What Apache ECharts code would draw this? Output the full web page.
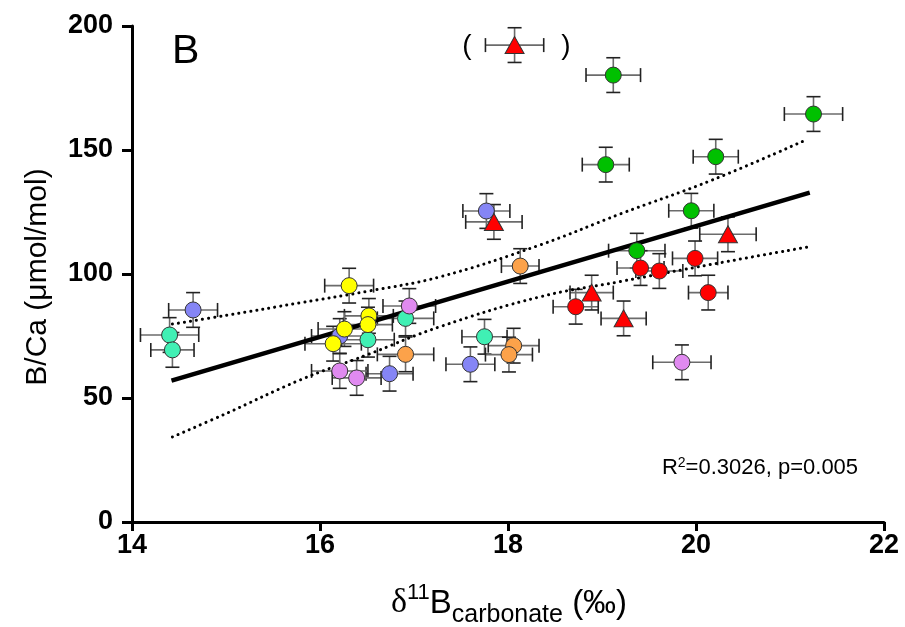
<!DOCTYPE html>
<html>
<head>
<meta charset="utf-8">
<script src="https://cdn.jsdelivr.net/npm/echarts/dist/echarts.min.js"></script>
<style>
html,body{margin:0;padding:0;background:#fff;}
#chart{width:905px;height:627px;}
</style>
</head>
<body>
<div id="chart"></div>
<script>
// ---- data: [d11B, B/Ca, xErr, yErr] ----
var teal   = [[14.40,75.4,0.31,7],[14.43,69.4,0.23,7],[16.91,82.1,0.30,7],[16.51,73.5,0.28,7],[17.75,74.7,0.24,7]];
var blue   = [[14.65,85.5,0.26,7],[16.21,75.0,0.30,7],[16.74,59.8,0.25,7],[17.60,63.6,0.26,7],[17.77,125.4,0.25,7]];
var yellow = [[16.31,95.3,0.26,7],[16.52,83.1,0.26,7],[16.51,79.6,0.26,7],[16.26,77.8,0.28,7],[16.14,71.9,0.30,7]];
var purple = [[16.95,87.1,0.28,7],[16.21,60.9,0.30,7],[16.39,58.1,0.26,7],[19.85,64.4,0.31,7]];
var orange = [[18.13,103.2,0.20,7],[16.91,67.6,0.30,7],[18.06,71.1,0.27,7],[18.01,67.5,0.25,7]];
var green  = [[19.12,180.2,0.29,7],[19.04,144.1,0.25,7],[20.21,147.3,0.24,7],[21.25,164.5,0.31,7],[19.95,125.5,0.24,7],[19.37,109.4,0.30,7]];
var redCircle = [[19.99,106.3,0.24,7],[19.41,102.4,0.25,7],[19.61,101.2,0.25,7],[20.13,92.5,0.21,7],[18.72,86.8,0.24,7]];
var redTriangle = [[18.07,192.3,0.31,7],[17.85,121.0,0.30,7],[20.34,116.0,0.30,7],[18.89,92.5,0.23,7],[19.23,82.1,0.24,7]];

// regression line and 95% confidence band
var fitX = [14.42, 21.21];
var fitY = [57.0, 132.8];
var bandX     = [14.43, 15.00, 15.79, 16.50, 17.28, 18.34, 19.20, 20.18, 21.19];
var bandUpper = [79.8, 83.3, 88.4, 93.0, 98.9, 111.7, 124.3, 138.0, 154.4];
var bandLower = [34.3, 43.7, 57.3, 67.4, 78.8, 90.8, 97.0, 104.0, 110.9];

var xTicks = [14, 16, 18, 20, 22];
var yTicks = [0, 50, 100, 150, 200];

var statText = 'R{s|2}=0.3026, p=0.005';

var groups = [
  {data: teal, color: '#40f0b4', symbol: 'circle'},
  {data: blue, color: '#8585f5', symbol: 'circle'},
  {data: yellow, color: '#ffff00', symbol: 'circle'},
  {data: purple, color: '#e08af0', symbol: 'circle'},
  {data: orange, color: '#fca24a', symbol: 'circle'},
  {data: green, color: '#00c000', symbol: 'circle'},
  {data: redCircle, color: '#ff0000', symbol: 'circle'},
  {data: redTriangle, color: '#ff0000', symbol: 'triangle'}
];

var allPts = [];
groups.forEach(function(g){ g.data.forEach(function(p){ allPts.push(p); }); });

var chart = echarts.init(document.getElementById('chart'), null, {renderer: 'canvas'});
var arial = "'Liberation Sans',Arial,sans-serif";

function zip(a, b){ return a.map(function(v,i){ return [v, b[i]]; }); }

var series = [];
// error bars
series.push({
  type: 'custom',
  z: 2,
  silent: true,
  data: allPts,
  encode: {x: 0, y: 1},
  renderItem: function(params, api){
    var x = api.value(0), y = api.value(1), xe = api.value(2), ye = api.value(3);
    var l = api.coord([x - xe, y]), r = api.coord([x + xe, y]);
    var t = api.coord([x, y + ye]), b = api.coord([x, y - ye]);
    var c = 7;
    var barStyle = {stroke: '#6b6b6b', lineWidth: 1.6};
    var capStyle = {stroke: '#222', lineWidth: 1.6};
    return {
      type: 'group',
      children: [
        {type: 'line', shape: {x1: l[0], y1: l[1], x2: r[0], y2: r[1]}, style: barStyle},
        {type: 'line', shape: {x1: t[0], y1: t[1], x2: b[0], y2: b[1]}, style: barStyle},
        {type: 'line', shape: {x1: l[0], y1: l[1]-c, x2: l[0], y2: l[1]+c}, style: capStyle},
        {type: 'line', shape: {x1: r[0], y1: r[1]-c, x2: r[0], y2: r[1]+c}, style: capStyle},
        {type: 'line', shape: {x1: t[0]-c, y1: t[1], x2: t[0]+c, y2: t[1]}, style: capStyle},
        {type: 'line', shape: {x1: b[0]-c, y1: b[1], x2: b[0]+c, y2: b[1]}, style: capStyle}
      ]
    };
  }
});
// confidence band
series.push({type: 'line', z: 3, data: zip(bandX, bandUpper), smooth: 0.4, showSymbol: false, symbol: 'none',
  lineStyle: {color: '#000', width: 3, type: [0.1, 6], cap: 'round'}});
series.push({type: 'line', z: 3, data: zip(bandX, bandLower), smooth: 0.4, showSymbol: false, symbol: 'none',
  lineStyle: {color: '#000', width: 3, type: [0.1, 6], cap: 'round'}});
// regression
series.push({type: 'line', z: 3, data: zip(fitX, fitY), showSymbol: false, symbol: 'none',
  lineStyle: {color: '#000', width: 4.5}});
// markers
groups.forEach(function(g){
  series.push({
    type: 'scatter', z: 5,
    data: g.data.map(function(p){ return [p[0], p[1]]; }),
    symbol: g.symbol,
    symbolSize: g.symbol === 'triangle' ? [19, 17] : 16,
    itemStyle: {color: g.color, borderColor: '#333', borderWidth: 1, opacity: 1}
  });
});

var option = {
  animation: false,
  backgroundColor: '#fff',
  grid: {left: 132, right: 21, top: 26, bottom: 105, containLabel: false},
  xAxis: {
    type: 'value', min: xTicks[0], max: xTicks[xTicks.length-1], interval: 2,
    axisLine: {show: true, onZero: false, lineStyle: {color: '#000', width: 3}},
    axisTick: {show: true, inside: false, length: 9, lineStyle: {color: '#000', width: 3}},
    axisLabel: {color: '#000', fontSize: 27, fontWeight: 'bold', fontFamily: arial, margin: 10},
    splitLine: {show: false}
  },
  yAxis: {
    type: 'value', min: yTicks[0], max: yTicks[yTicks.length-1], interval: 50,
    axisLine: {show: true, onZero: false, lineStyle: {color: '#000', width: 3}},
    axisTick: {show: true, inside: false, length: 10, lineStyle: {color: '#000', width: 3}},
    axisLabel: {color: '#000', fontSize: 27, fontWeight: 'bold', fontFamily: arial, margin: 19},
    splitLine: {show: false}
  },
  series: series,
  graphic: [
    {type: 'text', left: 172, top: 31, style: {text: 'B', fontSize: 41, fontFamily: arial, fill: '#000'}},
    {type: 'text', x: 467, y: 46, style: {text: '(', fontSize: 28, fontFamily: arial, fill: '#000', align: 'center', verticalAlign: 'middle'}},
    {type: 'text', x: 566, y: 46, style: {text: ')', fontSize: 28, fontFamily: arial, fill: '#000', align: 'center', verticalAlign: 'middle'}},
    {type: 'text', x: 760, y: 468, style: {text: statText, fontSize: 22, fontFamily: arial, fill: '#000', align: 'center', verticalAlign: 'middle',
      rich: {s: {fontSize: 14, fontFamily: arial, verticalAlign: 'top', padding: [0,0,10,0]}}}},
    {type: 'text', x: 38, y: 277, rotation: Math.PI/2, style: {text: 'B/Ca (μmol/mol)', fontSize: 30, fontFamily: arial, fill: '#000', align: 'center', verticalAlign: 'middle'}},
    {type: 'text', x: 509, y: 598, style: {
      text: '{d|δ}{u|11}{b|B}{c|carbonate}{b| (‰)}', align: 'center', verticalAlign: 'middle', fill: '#000',
      rich: {
        d: {fontSize: 34, fontFamily: "'Liberation Serif','DejaVu Serif',serif", fill: '#000', lineHeight: 44, verticalAlign: 'bottom'},
        u: {fontSize: 22, fontFamily: arial, fill: '#000', lineHeight: 44, padding: [0,0,16,0], verticalAlign: 'bottom'},
        b: {fontSize: 33, fontFamily: arial, fill: '#000', lineHeight: 44, verticalAlign: 'bottom'},
        c: {fontSize: 25, fontFamily: arial, fill: '#000', lineHeight: 44, padding: [0,0,-8,0], verticalAlign: 'bottom'}
      }
    }}
  ]
};
chart.setOption(option);
</script>
</body>
</html>
